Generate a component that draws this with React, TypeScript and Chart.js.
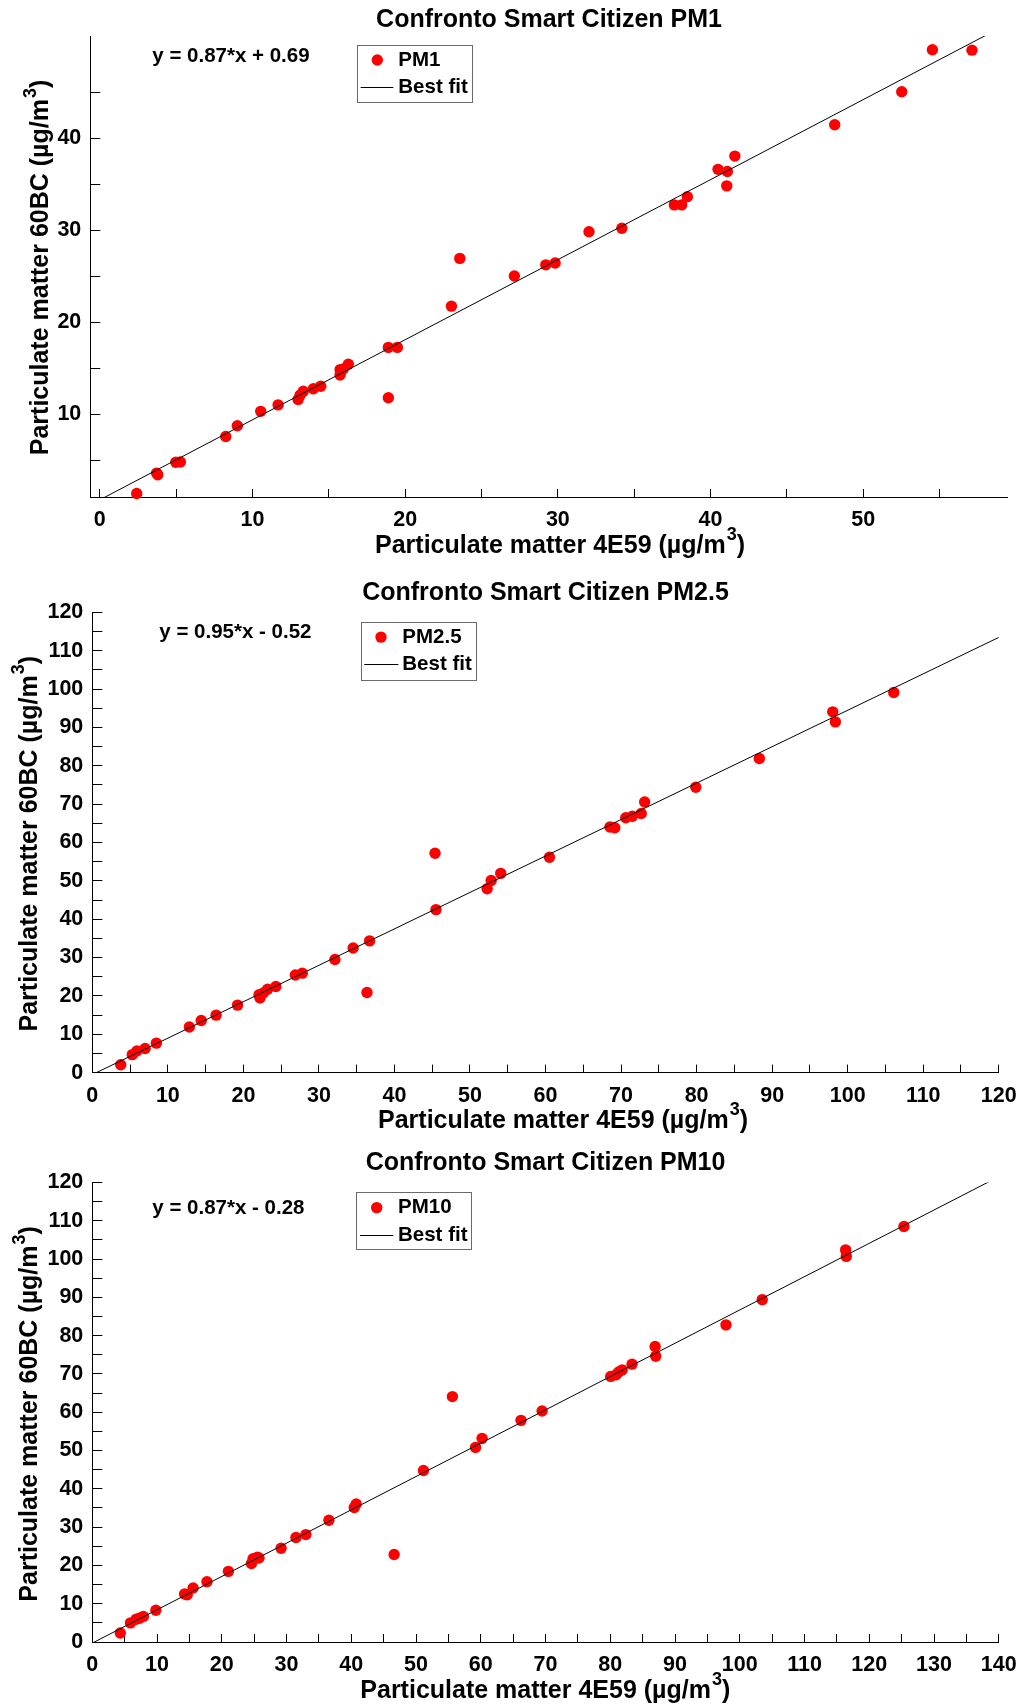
import React, { useEffect, useRef } from "react";
import { Chart, registerables } from "chart.js";

Chart.register(...registerables);

const FONT_FAMILY = '"Liberation Sans", Arial, Helvetica, sans-serif';
const PAGE_W = 1035;
const PAGE_H = 1704;

// ---------------- PM1 ----------------
const pm1X = [
  2.42, 3.72, 3.8, 4.98, 5.28, 8.25, 9.01, 10.54, 11.68, 12.99, 13.12, 13.33, 13.99,
  14.47, 15.74, 15.74, 15.95, 16.28, 18.9, 18.9, 19.49, 23.03, 23.58, 27.15, 29.21,
  29.82, 32.04, 34.19, 37.63, 38.11, 38.48, 40.49, 41.1, 41.06, 41.59, 48.13, 52.52,
  54.53, 57.12,
];
const pm1Y = [
  1.38, 3.6, 3.41, 4.77, 4.8, 7.58, 8.75, 10.31, 11.01, 11.6, 12.07, 12.5, 12.77,
  13.04, 14.25, 14.84, 14.92, 15.42, 11.79, 17.26, 17.26, 21.74, 26.93, 25.02, 26.23,
  26.43, 29.82, 30.21, 32.75, 32.75, 33.64, 36.61, 36.38, 34.81, 38.05, 41.45, 45.04,
  49.6, 49.56,
];
const pm1XTicks = [0, 5, 10, 15, 20, 25, 30, 35, 40, 45, 50, 55];
const pm1YTicks = [5, 10, 15, 20, 25, 30, 35, 40, 45];
const pm1Fit = [0.87, 0.69]; // slope, intercept (as printed on the chart)

// ---------------- PM2.5 ----------------
const pm25X = [
  3.76, 5.29, 5.9, 6.99, 8.48, 12.85, 14.42, 16.39, 19.23, 22.07, 22.2, 22.64, 23.21,
  24.3, 26.88, 27.8, 32.12, 34.53, 36.71, 36.36, 45.37, 45.5, 52.27, 52.8, 54.07,
  60.52, 68.52, 69.17, 70.62, 71.5, 72.67, 73.12, 79.89, 88.3, 98.02, 98.37, 106.1,
];
const pm25Y = [
  2.06, 4.68, 5.62, 6.27, 7.68, 11.89, 13.57, 14.98, 17.6, 20.31, 19.47, 20.78, 21.72,
  22.47, 25.46, 25.93, 29.49, 32.48, 34.35, 20.87, 57.19, 42.5, 47.93, 50.08, 51.95,
  56.16, 64.03, 63.84, 66.46, 66.84, 67.58, 70.58, 74.42, 81.9, 94.07, 91.45, 99.13,
];
const pm25XTicks = [0, 5, 10, 15, 20, 25, 30, 35, 40, 45, 50, 55, 60, 65, 70, 75, 80, 85, 90, 95, 100, 105, 110, 115, 120];
const pm25YTicks = [0, 5, 10, 15, 20, 25, 30, 35, 40, 45, 50, 55, 60, 65, 70, 75, 80, 85, 90, 95, 100, 105, 110, 115, 120];
const pm25Fit = [0.95, -0.52];

// ---------------- PM10 ----------------
const pm10X = [
  4.33, 5.9, 6.77, 7.28, 7.89, 9.82, 14.25, 14.66, 15.57, 17.71, 21.02, 24.58, 24.83,
  25.5, 25.75, 29.16, 31.45, 32.98, 36.54, 40.46, 40.76, 46.62, 51.15, 55.62, 59.19,
  60.2, 66.21, 69.47, 80.06, 80.9, 81.3, 81.84, 83.36, 86.92, 87.02, 97.87, 103.47,
  116.35, 116.45, 125.36,
];
const pm10Y = [
  2.35, 4.99, 5.93, 6.21, 6.68, 8.28, 12.52, 12.33, 14.12, 15.72, 18.45, 20.52, 21.74,
  22.12, 21.93, 24.47, 27.29, 28.05, 31.81, 35.11, 36.05, 22.87, 44.8, 64.09, 50.82,
  53.18, 57.88, 60.33, 69.36, 69.8, 70.5, 71.06, 72.56, 77.18, 74.64, 82.82, 89.41,
  102.4, 100.7, 108.52,
];
const pm10XTicks = [0, 5, 10, 15, 20, 25, 30, 35, 40, 45, 50, 55, 60, 65, 70, 75, 80, 85, 90, 95, 100, 105, 110, 115, 120, 125, 130, 135, 140];
const pm10YTicks = [0, 5, 10, 15, 20, 25, 30, 35, 40, 45, 50, 55, 60, 65, 70, 75, 80, 85, 90, 95, 100, 105, 110, 115, 120];
const pm10Fit = [0.87, -0.28];

const xAxisTitle = "Particulate matter 4E59 (µg/m";
const yAxisTitle = "Particulate matter 60BC (µg/m";
const unitSup = "3";
const unitTail = ")";

type Spec = {
  title: string;
  seriesLabel: string;
  xs: number[];
  ys: number[];
  xTicks: number[];
  yTicks: number[];
  xRange: [number, number];
  yRange: [number, number];
  fit: number[];
  canvasTop: number;
  canvasH: number;
  area: { left: number; right: number; top: number; bottom: number };
  titleCy: number;
  xTitle: { cx: number; baseline: number };
  yTitle: { baseline: number; cy: number };
  eq: { left: number; cy: number };
  legend: {
    x: number; y: number; w: number; h: number;
    dotX: number; dotY: number;
    lineX1: number; lineX2: number; lineY: number;
    textX: number;
  };
};

const specs: Spec[] = [
  {
    title: "Confronto Smart Citizen PM1",
    seriesLabel: "PM1",
    xs: pm1X, ys: pm1Y, xTicks: pm1XTicks, yTicks: pm1YTicks,
    xRange: [-0.62, 59.46], yRange: [1.0, 51.1], fit: pm1Fit,
    canvasTop: 0, canvasH: 565,
    area: { left: 90.3, right: 1007.7, top: 36, bottom: 497 },
    titleCy: 19.7,
    xTitle: { cx: 560, baseline: 552.5 },
    yTitle: { baseline: 48.3, cy: 267.5 },
    eq: { left: 152.3, cy: 56.4 },
    legend: { x: 356.7, y: 44.9, w: 115, h: 57.4, dotX: 377.3, dotY: 60, lineX1: 360.7, lineX2: 393.3, lineY: 87.2, textX: 398.3 },
  },
  {
    title: "Confronto Smart Citizen PM2.5",
    seriesLabel: "PM2.5",
    xs: pm25X, ys: pm25Y, xTicks: pm25XTicks, yTicks: pm25YTicks,
    xRange: [0, 120], yRange: [0, 120], fit: pm25Fit,
    canvasTop: 565, canvasH: 575,
    area: { left: 92.3, right: 1007.7, top: 47.4, bottom: 507.6 },
    titleCy: 28.3,
    xTitle: { cx: 563, baseline: 563 },
    yTitle: { baseline: 36.7, cy: 278.7 },
    eq: { left: 159.3, cy: 67.1 },
    legend: { x: 360.7, y: 57, w: 114.6, h: 57.5, dotX: 381, dotY: 72.1, lineX1: 364.3, lineX2: 398.3, lineY: 99, textX: 402.3 },
  },
  {
    title: "Confronto Smart Citizen PM10",
    seriesLabel: "PM10",
    xs: pm10X, ys: pm10Y, xTicks: pm10XTicks, yTicks: pm10YTicks,
    xRange: [0, 140], yRange: [0, 120], fit: pm10Fit,
    canvasTop: 1140, canvasH: 564,
    area: { left: 92.3, right: 1009.3, top: 42.5, bottom: 502 },
    titleCy: 23.5,
    xTitle: { cx: 545.3, baseline: 558 },
    yTitle: { baseline: 37.3, cy: 273.9 },
    eq: { left: 152.3, cy: 68.7 },
    legend: { x: 356, y: 52.4, w: 115, h: 57.1, dotX: 376.7, dotY: 67.6, lineX1: 360, lineX2: 393.3, lineY: 95, textX: 398 },
  },
];

const font = (size: number) => `bold ${size}px ${FONT_FAMILY}`;

function drawUnitLabel(ctx: CanvasRenderingContext2D, main: string, cx: number, baseline: number) {
  ctx.font = font(25);
  const w1 = ctx.measureText(main).width;
  const w3 = ctx.measureText(unitTail).width;
  ctx.font = font(18);
  const w2 = ctx.measureText(unitSup).width;
  const gap = 1;
  let x = cx - (w1 + gap + w2 + w3) / 2;
  ctx.textAlign = "left";
  ctx.textBaseline = "alphabetic";
  ctx.fillStyle = "#000";
  ctx.font = font(25);
  ctx.fillText(main, x, baseline);
  x += w1 + gap;
  ctx.font = font(18);
  ctx.fillText(unitSup, x, baseline - 12.6);
  x += w2;
  ctx.font = font(25);
  ctx.fillText(unitTail, x, baseline);
}

function decorPlugin(s: Spec) {
  return {
    id: "decor",
    afterDraw(chart: any) {
      const ctx: CanvasRenderingContext2D = chart.ctx;
      const pts = chart.data.datasets[0];
      const fitDs = chart.data.datasets[1];
      ctx.save();
      // axis titles
      drawUnitLabel(ctx, xAxisTitle, s.xTitle.cx, s.xTitle.baseline);
      ctx.save();
      ctx.translate(s.yTitle.baseline, s.yTitle.cy);
      ctx.rotate(-Math.PI / 2);
      drawUnitLabel(ctx, yAxisTitle, 0, 0);
      ctx.restore();
      // equation
      const slope = s.fit[0];
      const b = s.fit[1];
      const eqText = `y = ${slope.toFixed(2)}*x ${b >= 0 ? "+" : "-"} ${Math.abs(b).toFixed(2)}`;
      ctx.font = font(20.5);
      ctx.textAlign = "left";
      ctx.textBaseline = "middle";
      ctx.fillStyle = "#000";
      ctx.fillText(eqText, s.eq.left, s.eq.cy);
      // legend
      const L = s.legend;
      ctx.fillStyle = "#fff";
      ctx.fillRect(L.x, L.y, L.w, L.h);
      ctx.strokeStyle = "#6a6a6a";
      ctx.lineWidth = 1;
      ctx.strokeRect(Math.round(L.x) + 0.5, Math.round(L.y) + 0.5, Math.round(L.w), Math.round(L.h));
      ctx.beginPath();
      ctx.arc(L.dotX, L.dotY, 5.7, 0, Math.PI * 2);
      ctx.fillStyle = pts.backgroundColor;
      ctx.fill();
      ctx.beginPath();
      ctx.moveTo(L.lineX1, Math.round(L.lineY) + 0.5);
      ctx.lineTo(L.lineX2, Math.round(L.lineY) + 0.5);
      ctx.strokeStyle = fitDs.borderColor;
      ctx.lineWidth = 1;
      ctx.stroke();
      ctx.fillStyle = "#000";
      ctx.font = font(20.5);
      ctx.textBaseline = "middle";
      ctx.fillText(pts.label, L.textX, L.dotY);
      ctx.fillText(fitDs.label, L.textX, L.lineY);
      ctx.restore();
    },
  };
}

function ScatterPanel({ s }: { s: Spec }) {
  const ref = useRef<HTMLCanvasElement | null>(null);
  useEffect(() => {
    if (!ref.current) return;
    const points = s.xs.map((x, i) => ({ x, y: s.ys[i] }));
    const fitLine = s.xRange.map((x) => ({ x, y: s.fit[0] * x + s.fit[1] }));
    const tickFont = { family: FONT_FAMILY, size: 21.5, weight: "bold" as const };
    const labelEvery10 = (v: any) => (Math.abs(Number(v) % 10) < 1e-9 ? String(v) : "");
    const padTop = s.titleCy - 15;
    const chart = new Chart(ref.current, {
      type: "scatter",
      data: {
        datasets: [
          {
            label: s.seriesLabel,
            data: points,
            backgroundColor: "#ff0000",
            borderWidth: 0,
            pointRadius: 5.7,
            pointHoverRadius: 5.7,
            order: 2,
            clip: false as any,
          },
          {
            label: "Best fit",
            data: fitLine,
            showLine: true,
            borderColor: "#000000",
            borderWidth: 1,
            pointRadius: 0,
            pointHoverRadius: 0,
            fill: false,
            order: 1,
          },
        ],
      },
      options: {
        responsive: false,
        animation: false,
        devicePixelRatio: 1,
        events: [],
        layout: { padding: { left: 0, right: PAGE_W - s.area.right, top: 0, bottom: 0 } },
        plugins: {
          legend: { display: false },
          tooltip: { enabled: false },
          title: {
            display: true,
            text: s.title,
            fullSize: false,
            color: "#000",
            font: { family: FONT_FAMILY, size: 25, weight: "bold", lineHeight: 1.2 },
            padding: { top: padTop, bottom: s.area.top - 30 - padTop },
          },
        },
        scales: {
          x: {
            type: "linear",
            position: "bottom",
            min: s.xRange[0],
            max: s.xRange[1],
            afterBuildTicks: (sc: any) => {
              sc.ticks = s.xTicks.map((v) => ({ value: v }));
            },
            afterFit: (sc: any) => {
              sc.height = s.canvasH - s.area.bottom;
            },
            ticks: {
              autoSkip: false,
              maxRotation: 0,
              minRotation: 0,
              padding: 18.3,
              color: "#000",
              font: tickFont,
              callback: labelEvery10,
            },
            grid: {
              display: true,
              drawOnChartArea: false,
              drawTicks: true,
              tickLength: -8,
              tickColor: "#000",
              tickWidth: 1,
            },
            border: { display: true, color: "#000", width: 1 },
          },
          y: {
            type: "linear",
            position: "left",
            min: s.yRange[0],
            max: s.yRange[1],
            afterBuildTicks: (sc: any) => {
              sc.ticks = s.yTicks.map((v) => ({ value: v }));
            },
            afterFit: (sc: any) => {
              sc.width = s.area.left;
            },
            ticks: {
              autoSkip: false,
              padding: 19,
              color: "#000",
              font: tickFont,
              callback: labelEvery10,
            },
            grid: {
              display: true,
              drawOnChartArea: false,
              drawTicks: true,
              tickLength: -10,
              tickColor: "#000",
              tickWidth: 1,
            },
            border: { display: true, color: "#000", width: 1 },
          },
        },
      } as any,
      plugins: [decorPlugin(s)],
    });
    return () => chart.destroy();
  }, [s]);
  return (
    <canvas
      ref={ref}
      width={PAGE_W}
      height={s.canvasH}
      style={{
        position: "absolute",
        left: 0,
        top: s.canvasTop,
        width: PAGE_W,
        height: s.canvasH,
        display: "block",
      }}
    />
  );
}

export default function App() {
  return (
    <div
      style={{
        position: "absolute",
        left: 0,
        top: 0,
        width: PAGE_W,
        height: PAGE_H,
        background: "#fff",
        overflow: "hidden",
      }}
    >
      {specs.map((s) => (
        <ScatterPanel key={s.title} s={s} />
      ))}
    </div>
  );
}
